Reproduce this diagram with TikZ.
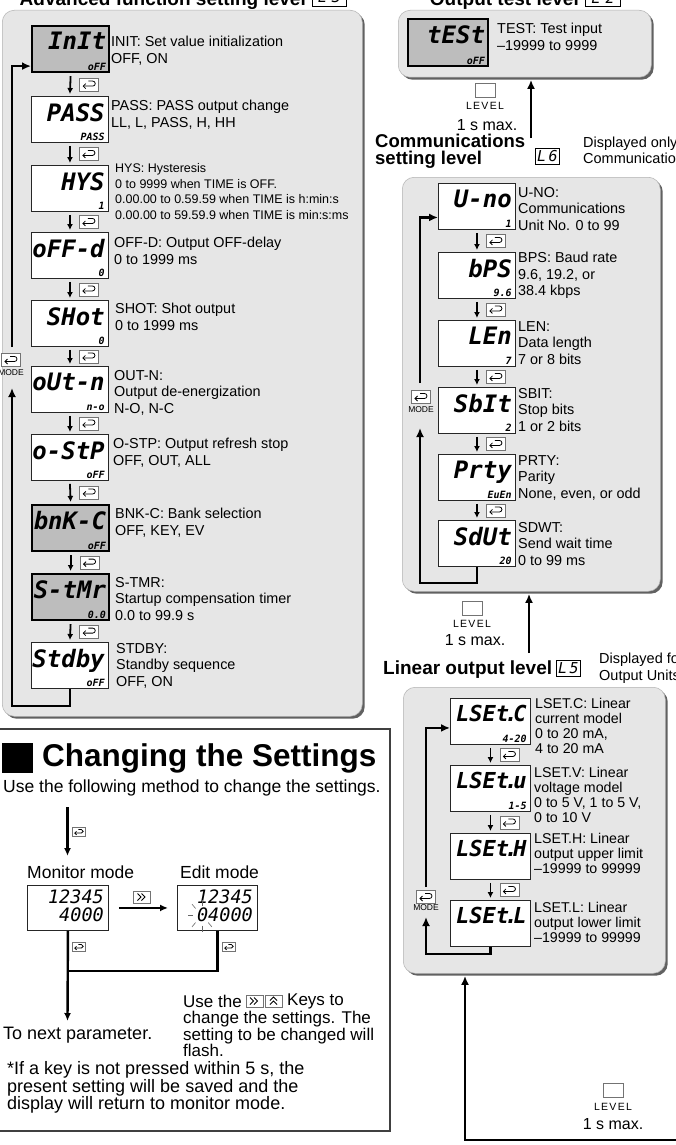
\documentclass[tikz,border=0pt]{standalone}
\usepackage{fontspec}
\setmainfont{Liberation Sans}
\newfontfamily\segfont{DejaVu Sans Mono}
\newfontfamily\spacedfont{Liberation Sans}[LetterSpace=12]
\usetikzlibrary{arrows.meta,calc}
\definecolor{panelgray}{HTML}{E6E6E6}
\definecolor{dispgray}{HTML}{BDBDBD}
\newcommand{\segdot}{\kern-4.5pt.\kern-4.5pt}
\newcommand{\dsp}[7]{%
  \node[#2, minimum width=#5pt] (#1) at (#3,#4) {};
  \node[segbig, anchor=north east] (#1m) at ([xshift=-4pt,yshift=-7pt]#1.north east) {#6};
  \node[segsm, anchor=south east] (#1s) at ([xshift=-4pt,yshift=2.5pt]#1.south east) {#7};
}
\newcommand{\nxt}[2]{%
  \draw[darr] ($(#1.south)+(0,3)$) -- ($(#2.north)+(0,-2)$);
  \pic at ($(#1.south)!0.5!(#2.north)+(19,0)$) {keyic};
}
\tikzset{
  pshadow/.style={fill=black!62, rounded corners=12pt, anchor=north west, inner sep=0pt},
  panel/.style={fill=panelgray, draw=black!30, line width=0.5pt, rounded corners=12pt, anchor=north west, inner sep=0pt},
  dispw/.style={draw=black!85, line width=0.9pt, fill=white, minimum height=46pt, inner sep=0pt, anchor=north west},
  dispg/.style={draw=black, line width=2.2pt, fill=dispgray, minimum height=46pt, inner sep=0pt, anchor=north west},
  segbig/.style={font=\segfont\bfseries\itshape\fontsize{24}{24}\selectfont, inner sep=0pt},
  segsm/.style={font=\segfont\bfseries\itshape\fontsize{10}{10}\selectfont, inner sep=0pt},
  segmid/.style={font=\segfont\itshape\fontsize{18.5}{18.5}\selectfont, inner sep=0pt},
  desc/.style={font=\fontsize{14.4}{16.5}\selectfont, align=left, anchor=north west, inner sep=0pt},
  descs/.style={font=\fontsize{12.5}{15.5}\selectfont, align=left, anchor=north west, inner sep=0pt},
  descl/.style={font=\fontsize{14.2}{15}\selectfont, align=left, anchor=north west, inner sep=0pt},
  lvltitle/.style={font=\bfseries\fontsize{18.5}{18.5}\selectfont, inner sep=0pt},
  body/.style={font=\fontsize{17.5}{16.7}\selectfont, align=left, inner sep=0pt},
  bodyr/.style={font=\fontsize{17}{16.7}\selectfont, align=left, inner sep=0pt},
  bodyl/.style={font=\fontsize{18}{16.7}\selectfont, align=left, inner sep=0pt},
  darr/.style={line width=1.8pt, -{Latex[length=6pt,width=6pt]}},
  loopl/.style={line width=2.8pt, line join=miter, -{Latex[length=9pt,width=8pt]}},
  modetxt/.style={font=\fontsize{8.5}{8.5}\selectfont, inner sep=0pt},
  lvltxt/.style={font=\spacedfont\fontsize{10.5}{10.5}\selectfont, inner sep=0pt},
  maxtxt/.style={font=\fontsize{16}{16}\selectfont, inner sep=0pt},
  lvlbox/.style={draw=black!55, line width=0.6pt, fill=white, minimum width=20pt, minimum height=14pt, inner sep=0pt},
  lbox/.style={draw=black, line width=1pt, minimum width=24pt, minimum height=16pt, inner sep=0pt, font=\segfont\itshape\fontsize{15}{15}\selectfont},
  flashray/.style={draw=black!60, line width=0.6pt},
  keyboxs/.style={draw=black!55, line width=0.6pt, fill=white},
  keyic/.pic={
    \draw[keyboxs] (-9.5,-6.5) rectangle (9.5,6.5);
    \draw[line width=0.8pt] (-6,1.5) -- (3.5,1.5) arc[start angle=90, end angle=-90, radius=2.5] -- (-1,-3.5);
    \draw[line width=0.8pt] (-3.5,-1) -- (-6,1.5) -- (-3.5,4);
  },
  ffkey/.pic={
    \draw[keyboxs] (-8.5,-6) rectangle (8.5,6);
    \draw[line width=0.8pt] (-4.5,-3.5) -- (-1,0) -- (-4.5,3.5) (-0.5,-3.5) -- (3,0) -- (-0.5,3.5);
  },
  upkey/.pic={
    \draw[keyboxs] (-8.5,-6) rectangle (8.5,6);
    \draw[line width=0.8pt] (-3.5,-0.5) -- (0,-4) -- (3.5,-0.5) (-3.5,3.5) -- (0,0) -- (3.5,3.5);
  },
}
\begin{document}
\begin{tikzpicture}[x=1pt,y=-1pt]
\useasboundingbox[fill=white] (0,0) rectangle (675,1145);

% ---------- titles at the top (cut off)
\node[font=\bfseries\fontsize{19}{19}\selectfont, anchor=base east, inner sep=0pt] (advT) at (306,6) {Advanced function setting level};
\node[lbox, minimum width=34pt, minimum height=19pt, anchor=south west] (advBox) at (312,7.5) {L\,\,3};
\node[font=\bfseries\fontsize{19}{19}\selectfont, anchor=base east, inner sep=0pt] (tstT) at (579,6) {Output test level};
\node[lbox, minimum width=35pt, minimum height=19pt, anchor=south west] (tstBox) at (585,7.5) {L\,\,2};

% ---------- panels
\node[pshadow, minimum width=360pt, minimum height=706pt] (pAdvS) at (4.5,12.5) {};
\node[panel, minimum width=360pt, minimum height=706pt] (pAdv) at (2,10) {};
\node[pshadow, minimum width=253pt, minimum height=67pt] (pTestS) at (400.5,12.5) {};
\node[panel, minimum width=253pt, minimum height=67pt] (pTest) at (398,10) {};
\node[pshadow, minimum width=258pt, minimum height=414pt] (pComS) at (404.5,179.5) {};
\node[panel, minimum width=258pt, minimum height=414pt] (pCom) at (402,177) {};
\node[pshadow, minimum width=262pt, minimum height=286pt] (pLinS) at (405.5,689.5) {};
\node[panel, minimum width=262pt, minimum height=286pt] (pLin) at (403,687) {};

% ---------- advanced function setting level
\dsp{init}{dispg}{31}{25}{77}{InIt}{oFF}
\dsp{pass}{dispw}{31}{96}{77}{PASS}{PASS}
\dsp{hys}{dispw}{31}{165}{77}{HYS}{1}
\dsp{offd}{dispw}{31}{232}{77}{oFF-d}{0}
\dsp{shot}{dispw}{31}{300}{77}{SHot}{0}
\dsp{outn}{dispw}{31}{366}{77}{oUt-n}{n-o}
\dsp{ostp}{dispw}{31}{434}{77}{o-StP}{oFF}
\dsp{bnkc}{dispg}{31}{504}{77}{bnK-C}{oFF}
\dsp{stmr}{dispg}{31}{573}{77}{S-tMr}{0.0}
\dsp{stdby}{dispw}{31}{642}{77}{Stdby}{oFF}
\nxt{init}{pass}
\nxt{pass}{hys}
\nxt{hys}{offd}
\nxt{offd}{shot}
\nxt{shot}{outn}
\nxt{outn}{ostp}
\nxt{ostp}{bnkc}
\nxt{bnkc}{stmr}
\nxt{stmr}{stdby}

\node[desc] (initd) at (111,36) {INIT: Set value initialization\\OFF, ON};
\node[desc] (passd) at (111,100) {PASS: PASS output change\\LL, L, PASS, H, HH};
\node[descs] (hysd) at (115,163.5) {HYS: Hysteresis\\0 to 9999 when TIME is OFF.\\0.00.00 to 0.59.59 when TIME is h:min:s\\0.00.00 to 59.59.9 when TIME is min:s:ms};
\node[desc] (offdd) at (114,237) {OFF-D: Output OFF-delay\\0 to 1999 ms};
\node[desc] (shotd) at (115,303) {SHOT: Shot output\\0 to 1999 ms};
\node[desc] (outnd) at (114,370) {OUT-N:\\Output de-energization\\N-O, N-C};
\node[desc] (ostpd) at (113,438) {O-STP: Output refresh stop\\OFF, OUT, ALL};
\node[desc] (bnkcd) at (115,508) {BNK-C: Bank selection\\OFF, KEY, EV};
\node[desc] (stmrd) at (115,577) {S-TMR:\\Startup compensation timer\\0.0 to 99.9 s};
\node[desc] (stdbyd) at (116,643) {STDBY:\\Standby sequence\\OFF, ON};

\coordinate (advBot) at (12,388);
\coordinate (advTop) at (12,347);
\draw[loopl] (stdby.south) -- ++(0,17) -| (advBot);
\draw[loopl] (advTop) |- ([yshift=-17pt]init.west);
\pic at (11,360) {keyic};
\node[modetxt] (advMode) at (11,372.5) {MODE};

% ---------- output test level
\node[dispg, minimum width=80pt, minimum height=47pt] (test) at (407,18) {};
\node[segbig, anchor=north east] (testm) at ([xshift=-4pt,yshift=-7pt]test.north east) {tESt};
\node[segsm, anchor=south east] (tests) at ([xshift=-4pt,yshift=2.5pt]test.south east) {oFF};
\node[desc] (testd) at (497,23) {TEST: Test input\\--19999 to 9999};

\node[lvlbox] (lv1) at (485,90) {};
\node[lvltxt] (lv1t) at (485,106) {LEVEL};
\node[maxtxt] (lv1m) at (487,125) {1 s max.};
\coordinate (upAs) at (531,138);
\draw[loopl] (upAs) -- (upAs |- pTestS.south);

% ---------- communications setting level
\node[lvltitle, anchor=base west] (comT) at (375,147.5) {Communications};
\node[lvltitle, anchor=base west] (comT2) at (375,164) {setting level};
\node[lbox] (comBox) at (547.5,156.5) {L\,6};
\node[font=\fontsize{14.5}{15.5}\selectfont, align=left, anchor=north west, inner sep=0pt] (comNote) at (583,137) {Displayed only for models with\\Communications Units.};

\dsp{uno}{dispw}{438}{183}{77}{U-no}{1}
\dsp{bps}{dispw}{438}{252}{77}{bPS}{9.6}
\dsp{len}{dispw}{438}{320}{77}{LEn}{7}
\dsp{sbit}{dispw}{438}{387}{77}{SbIt}{2}
\dsp{prty}{dispw}{438}{454}{77}{Prty}{EuEn}
\dsp{sdwt}{dispw}{438}{520}{77}{SdUt}{20}
\nxt{uno}{bps}
\nxt{bps}{len}
\nxt{len}{sbit}
\nxt{sbit}{prty}
\nxt{prty}{sdwt}

\node[desc] (unod) at (518,187) {U-NO:\\Communications\\Unit No. 0 to 99};
\node[desc] (bpsd) at (518,252) {BPS: Baud rate\\9.6, 19.2, or\\38.4 kbps};
\node[desc] (lend) at (518,321) {LEN:\\Data length\\7 or 8 bits};
\node[desc] (sbitd) at (518,388) {SBIT:\\Stop bits\\1 or 2 bits};
\node[desc] (prtyd) at (518,455) {PRTY:\\Parity\\None, even, or odd};
\node[desc] (sdwtd) at (518,522) {SDWT:\\Send wait time\\0 to 99 ms};

\coordinate (comBot) at (420,428);
\coordinate (comTop) at (420,383);
\draw[loopl] (sdwt.south) -- ++(0,16) -| (comBot);
\draw[loopl] (comTop) |- ([yshift=-11pt]uno.west);
\pic at (421,397) {keyic};
\node[modetxt] (comMode) at (421,410) {MODE};

\node[lvlbox] (lv2) at (472,608) {};
\node[lvltxt] (lv2t) at (472,624) {LEVEL};
\node[maxtxt] (lv2m) at (475,640) {1 s max.};
\coordinate (upBs) at (529,653);
\draw[loopl] (upBs) -- (upBs |- pComS.south);

% ---------- linear output level
\node[font=\bfseries\fontsize{19}{19}\selectfont, anchor=base west, inner sep=0pt] (linT) at (383,674) {Linear output level};
\node[lbox] (linBox) at (568.5,668.5) {L\,5};
\node[font=\fontsize{14.5}{16.5}\selectfont, align=left, anchor=north west, inner sep=0pt] (linNote) at (599,653) {Displayed for models with Linear\\Output Units.};

\dsp{lsc}{dispw}{450}{698}{80}{\fontsize{22}{22}\selectfont LSEt\segdot C}{4-20}
\dsp{lsv}{dispw}{450}{765}{80}{\fontsize{22}{22}\selectfont LSEt\segdot u}{1-5}
\dsp{lsh}{dispw}{450}{833}{80}{\fontsize{22}{22}\selectfont LSEt\segdot H}{}
\dsp{lsl}{dispw}{450}{900}{80}{\fontsize{22}{22}\selectfont LSEt\segdot L}{}
\nxt{lsc}{lsv}
\nxt{lsv}{lsh}
\nxt{lsh}{lsl}

\node[descl] (lscd) at (535,698.5) {LSET.C: Linear\\current model\\0 to 20 mA,\\4 to 20 mA};
\node[descl] (lsvd) at (534,767.5) {LSET.V: Linear\\voltage model\\0 to 5 V, 1 to 5 V,\\0 to 10 V};
\node[descl] (lshd) at (534,832.5) {LSET.H: Linear\\output upper limit\\--19999 to 99999};
\node[descl] (lsld) at (534,901.5) {LSET.L: Linear\\output lower limit\\--19999 to 99999};

\coordinate (linBot) at (426,917);
\coordinate (linTop) at (426,887);
\draw[loopl] (lsl.south) -- ++(0,7) -| (linBot);
\draw[loopl] (linTop) |- ([yshift=-6.5pt]lsc.west);
\pic at (426,897) {keyic};
\node[modetxt] (linMode) at (426,908) {MODE};

\coordinate (linS) at (465,1140);
\coordinate (linE) at (680,1140);
\draw[loopl] (linE) -- (linS) -- (linS |- pLinS.south);
\node[lvlbox] (lv3) at (613,1090) {};
\node[lvltxt] (lv3t) at (613,1107) {LEVEL};
\node[maxtxt] (lv3m) at (613,1124) {1 s max.};

% ---------- changing the settings
\draw[black!75, line width=1.1pt] (0,729) -| (390,1131) -- (0,1131);
\fill (2,743) rectangle (33,773);
\node[font=\bfseries\fontsize{31.5}{31.5}\selectfont, anchor=west, inner sep=0pt] (chTitle) at (42,758) {Changing the Settings};
\node[body, anchor=west] (chSub) at (3,788) {Use the following method to change the settings.};

\coordinate (chIn) at (67.5,807);
\coordinate (chInEnd) at (67.5,856);
\draw[line width=2.2pt, -{Latex[length=8pt,width=7pt]}] (chIn) -- (chInEnd);
\pic[scale=0.7] at (79,832) {keyic};

\node[body, anchor=west] (monT) at (27,872) {Monitor mode};
\node[dispw, minimum width=81pt, minimum height=45pt] (mon) at (27,885) {};
\node[segmid, anchor=east] (mon1) at (104,897) {12345};
\node[segmid, anchor=east] (mon2) at (104,915) {4000};

\node[body, anchor=west] (edT) at (180,872) {Edit mode};
\node[dispw, minimum width=80pt, minimum height=45pt] (edit) at (177,885) {};
\node[segmid, anchor=east] (ed1) at (253,897) {12345};
\node[segmid, anchor=east] (ed2) at (253,915) {04000};
\coordinate (flashc) at ($(ed2.west)+(5,0.5)$);
\foreach \a in {180,225,270,135,90,45}
  \draw[flashray] ($(flashc)+({9*cos(\a)},{10*sin(\a)})$) -- ($(flashc)+({14*cos(\a)},{16*sin(\a)})$);

\draw[line width=2.4pt, -{Latex[length=8pt,width=7pt]}] ([xshift=10pt]mon.east) -- ([xshift=-9pt]edit.west);
\pic at (142,897) {ffkey};

\coordinate (nextP) at (67.5,1021);
\draw[line width=2.4pt, -{Latex[length=8pt,width=7pt]}] (mon.south) -- (nextP);
\draw[line width=2.4pt, line join=miter] (edit.south) -- ++(0,40) -- ($(mon.south)+(0,40)$);
\pic[scale=0.7] at (79,947) {keyic};
\pic[scale=0.7] at (229,947) {keyic};

\node[bodyl, anchor=west] (toNext) at (3,1035) {To next parameter.};
\node[bodyr, anchor=west] (useA) at (183,1001) {Use the};
\pic at (254.5,1001) {ffkey};
\pic at (273.5,1001) {upkey};
\node[bodyr, anchor=west] (useB) at (287,1001) {Keys to};
\node[bodyr, anchor=north west] (useC) at (183,1011) {change the settings. The\\setting to be changed will\\flash.};
\node[bodyl, anchor=north west] (note) at (7,1061) {*If a key is not pressed within 5 s, the\\present setting will be saved and the\\display will return to monitor mode.};
\end{tikzpicture}
\end{document}
